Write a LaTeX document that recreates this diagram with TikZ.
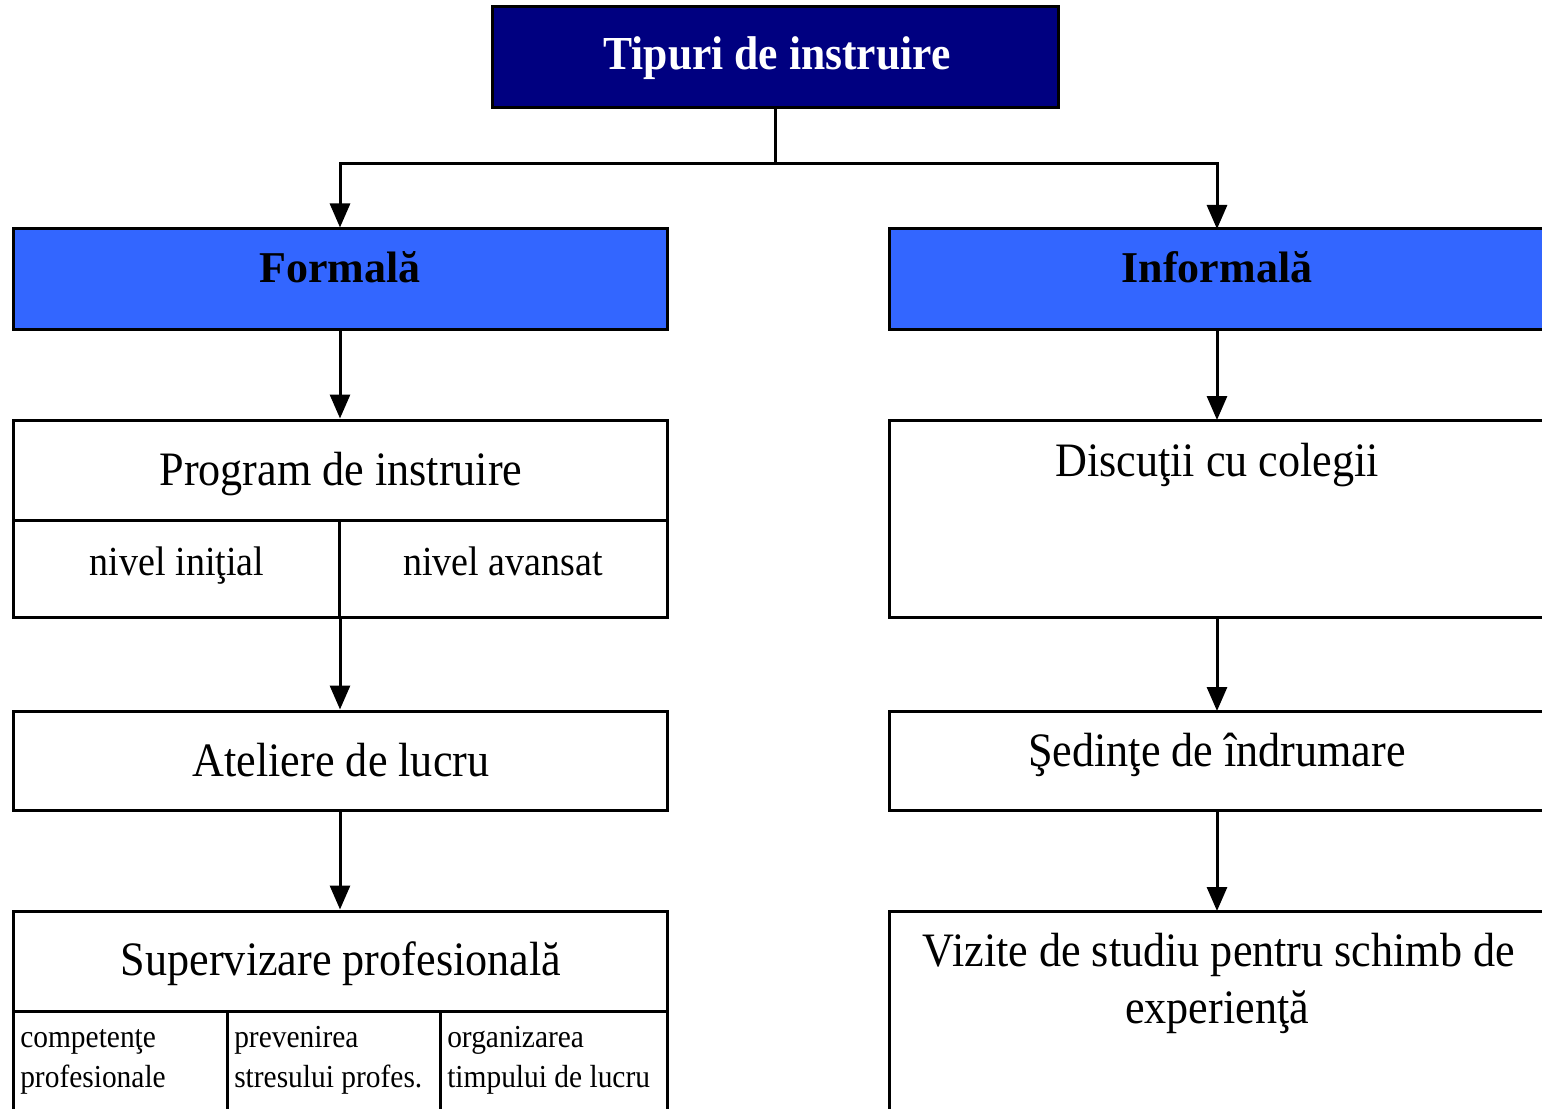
\documentclass[tikz,border=0pt]{standalone}
\usepackage{fontspec}
\setmainfont{Liberation Serif}
\newfontfamily\condfont[FakeStretch=0.92]{Liberation Serif}
\usetikzlibrary{arrows.meta,fit}
\definecolor{navytop}{HTML}{000080}
\definecolor{bluebox}{HTML}{3366FF}
\begin{document}
\begin{tikzpicture}[x=0.75pt,y=-0.75pt,
  box/.style={draw=black,line width=2.25pt,inner sep=0pt},
  big/.style={font=\condfont\fontsize{36}{43}\selectfont,inner sep=0pt,anchor=base},
  bigbold/.style={font=\condfont\bfseries\fontsize{35}{42}\selectfont,inner sep=0pt,anchor=base},
  small/.style={font=\condfont\fontsize{24}{29.3}\selectfont,inner sep=0pt,anchor=base west,align=left},
  conn/.style={line width=2.25pt,-{Triangle[length=18pt,width=15pt]}},
  plain/.style={line width=2.25pt}]
\useasboundingbox (0,0) rectangle (1542,1109);
% boxes
\node[box,fill=navytop,fit={(492,7) (1058,108)}] (top) {};
\node[box,fill=bluebox,fit={(13,229) (667,329)}] (formala) {};
\node[box,fill=bluebox,fit={(889,229) (1545,329)}] (informala) {};
\node[box,fit={(13,420) (667,617)}] (program) {};
\node[box,fit={(13,711) (667,810)}] (ateliere) {};
\node[box,fit={(13,911) (667,1125)}] (superv) {};
\node[box,fit={(889,420) (1545,617)}] (discutii) {};
\node[box,fit={(889,711) (1545,810)}] (sedinte) {};
\node[box,fit={(889,911) (1545,1125)}] (vizite) {};
% dividers
\draw[plain] (13,520) -- (667,520);
\draw[plain] (339,520) -- (339,617);
\draw[plain] (13,1011) -- (667,1011);
\draw[plain] (227,1011) -- (227,1125);
\draw[plain] (440,1011) -- (440,1125);
% texts
\node[bigbold,text=white,font=\condfont\bfseries\fontsize{35.5}{42}\selectfont] (ttop) at (777,70) {Tipuri de instruire};
\node[bigbold,font=\bfseries\fontsize{33}{40}\selectfont] (tformala) at (340,283) {Formală};
\node[bigbold,font=\bfseries\fontsize{33}{40}\selectfont] (tinformala) at (1217,283) {Informală};
\node[big] (tprogram) at (341,485) {Program de instruire};
\node[big,font=\condfont\fontsize{31}{37}\selectfont] (tinitial) at (177,575) {nivel iniţial};
\node[big,font=\condfont\fontsize{31}{37}\selectfont] (tavansat) at (503,575) {nivel avansat};
\node[big] (tateliere) at (341,776) {Ateliere de lucru};
\node[big] (tsuperv) at (341,975) {Supervizare profesională};
\node[small] (tcomp) at (20,1087) {competenţe\\profesionale};
\node[small] (tprev) at (234,1087) {prevenirea\\stresului profes.};
\node[small] (torg) at (447,1087) {organizarea\\timpului de lucru};
\node[big] (tdiscutii) at (1217,476) {Discuţii cu colegii};
\node[big] (tsedinte) at (1217,766) {Şedinţe de îndrumare};
\node[big] (tvizite) at (1219,966) {Vizite de studiu pentru schimb de};
\node[big] (tvizite2) at (1217,1023) {experienţă};
% connectors
\coordinate (split) at ([yshift=-54*0.75pt]top.south);
\draw[plain] (top.south) -- (split);
\draw[conn] (split) -| (formala.north);
\draw[conn] (split) -| (1217,229);
\draw[conn] (formala.south) -- (program.north);
\draw[conn] (1217,329) -- (1217,420);
\draw[conn] (program.south) -- (ateliere.north);
\draw[conn] (ateliere.south) -- (superv.north);
\draw[conn] (1217,617) -- (1217,711);
\draw[conn] (1217,810) -- (1217,911);
\end{tikzpicture}
\end{document}
